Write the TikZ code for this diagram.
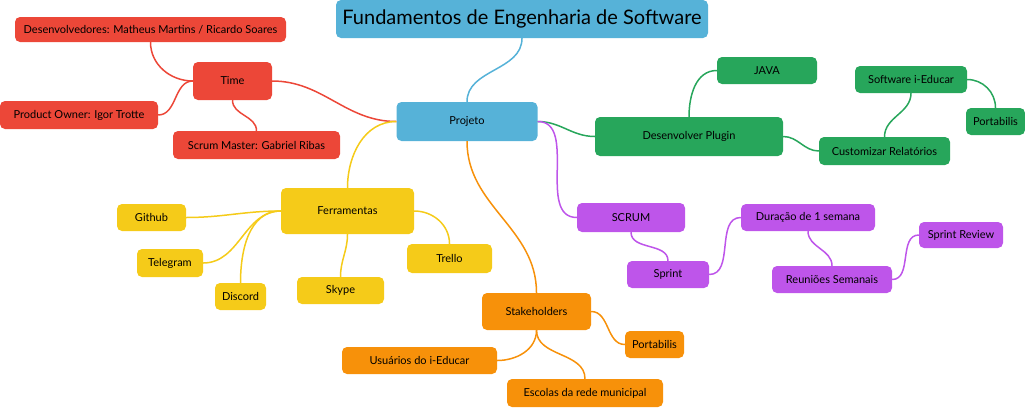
\documentclass[tikz,border=0pt]{standalone}
\usepackage{fontspec}
\setmainfont{Lato}
\usepackage{xcolor}
\usetikzlibrary{positioning}

\definecolor{mapblue}{RGB}{86,178,216}
\definecolor{mapred}{RGB}{236,71,56}
\definecolor{mapgreen}{RGB}{39,166,91}
\definecolor{mapyellow}{RGB}{245,203,25}
\definecolor{mappurple}{RGB}{190,85,234}
\definecolor{maporange}{RGB}{247,145,10}

\tikzset{
    topic/.style={rounded corners=5pt, inner sep=2pt, text=black,
        font=\fontsize{11}{13}\selectfont},
    bluebox/.style={topic, fill=mapblue},
    redbox/.style={topic, fill=mapred},
    greenbox/.style={topic, fill=mapgreen},
    yellowbox/.style={topic, fill=mapyellow},
    purplebox/.style={topic, fill=mappurple},
    orangebox/.style={topic, fill=maporange},
    link/.style={line width=1.5pt},
}

\begin{document}
\begin{tikzpicture}[x=1pt,y=1pt]
    \useasboundingbox (0,0) rectangle (1025,-407);

    % Central topics
    \node[bluebox, minimum width=372pt, minimum height=38pt, inner sep=0pt,
        font=\fontsize{20}{24}\selectfont] (titulo) at (522,-19) {Fundamentos de Engenharia de Software};
    \node[bluebox, minimum width=141pt, minimum height=39pt] (projeto) at (467,-121.5) {Projeto};

    % Time
    \node[redbox, minimum width=79pt, minimum height=38pt] (time) at (232.5,-81) {Time};
    \node[redbox, minimum width=271pt, minimum height=25pt] (devs) at (150.5,-29.5) {Desenvolvedores: Matheus Martins / Ricardo Soares};
    \node[redbox, minimum width=158pt, minimum height=28pt] (po) at (79,-115) {Product Owner: Igor Trotte};
    \node[redbox, minimum width=167pt, minimum height=28pt] (sm) at (256.5,-145) {Scrum Master: Gabriel Ribas};

    % Desenvolver Plugin
    \node[greenbox, minimum width=188pt, minimum height=39pt] (plugin) at (689,-136.5) {Desenvolver Plugin};
    \node[greenbox, minimum width=100pt, minimum height=27pt] (java) at (767,-70.5) {JAVA};
    \node[greenbox, minimum width=131pt, minimum height=28pt] (relat) at (884.5,-151) {Customizar Relatórios};
    \node[greenbox, minimum width=112pt, minimum height=27pt] (ieducar) at (911,-79.5) {Software i-Educar};
    \node[greenbox, minimum width=59pt, minimum height=27pt] (portg) at (995.5,-121.5) {Portabilis};

    % Ferramentas
    \node[yellowbox, minimum width=133pt, minimum height=46pt] (ferr) at (347.5,-211) {Ferramentas};
    \node[yellowbox, minimum width=69pt, minimum height=27pt] (github) at (151.5,-217.5) {Github};
    \node[yellowbox, minimum width=66pt, minimum height=28pt] (telegram) at (170,-263) {Telegram};
    \node[yellowbox, minimum width=51pt, minimum height=27pt] (discord) at (240.5,-296.5) {Discord};
    \node[yellowbox, minimum width=87pt, minimum height=27pt] (skype) at (340.5,-290.5) {Skype};
    \node[yellowbox, minimum width=85pt, minimum height=29pt] (trello) at (449.5,-258.5) {Trello};

    % SCRUM
    \node[purplebox, minimum width=108pt, minimum height=29pt] (scrum) at (631,-217.5) {SCRUM};
    \node[purplebox, minimum width=82pt, minimum height=27pt] (sprint) at (668,-274.5) {Sprint};
    \node[purplebox, minimum width=134pt, minimum height=27pt] (duracao) at (808,-217.5) {Duração de 1 semana};
    \node[purplebox, minimum width=120pt, minimum height=27pt] (reunioes) at (832,-279.5) {Reuniões Semanais};
    \node[purplebox, minimum width=84pt, minimum height=26pt] (review) at (961,-235) {Sprint Review};

    % Stakeholders
    \node[orangebox, minimum width=109pt, minimum height=37pt] (stake) at (536.5,-311.5) {Stakeholders};
    \node[orangebox, minimum width=59pt, minimum height=27pt] (porto) at (654.5,-344.5) {Portabilis};
    \node[orangebox, minimum width=155pt, minimum height=27pt] (usuarios) at (419.5,-360.5) {Usuários do i-Educar};
    \node[orangebox, minimum width=156pt, minimum height=28pt] (escolas) at (585,-393) {Escolas da rede municipal};

    % Links
    \draw[link, mapblue] (titulo.south) to[out=-90,in=90] (projeto.north);

    \draw[link, mapred] (projeto.west) to[out=180,in=0] (time.east);
    \draw[link, mapred] (time.west) to[out=180,in=-90] (devs.south);
    \draw[link, mapred] (time.west) to[out=180,in=0] (po.east);
    \draw[link, mapred] (time.south) to[out=-90,in=90] (sm.north);

    \draw[link, mapgreen] (projeto.east) to[out=0,in=180] (plugin.west);
    \draw[link, mapgreen] (plugin.north) to[out=90,in=180] (java.west);
    \draw[link, mapgreen] (plugin.east) to[out=0,in=180] (relat.west);
    \draw[link, mapgreen] (relat.north) to[out=90,in=-90] (ieducar.south);
    \draw[link, mapgreen] (ieducar.east) to[out=0,in=90] (portg.north);

    \draw[link, mapyellow] (projeto.west) to[out=180,in=90] (ferr.north);
    \foreach \n in {github,telegram} {
        \draw[link, mapyellow] (ferr.west) to[out=180,in=0] (\n.east);
    }
    \draw[link, mapyellow] (ferr.west) to[out=180,in=90] (discord.north);
    \draw[link, mapyellow] (ferr.south) to[out=-90,in=90] (skype.north);
    \draw[link, mapyellow] (ferr.east) to[out=0,in=90] (trello.north);

    \draw[link, mappurple] (projeto.east) to[out=0,in=180] (scrum.west);
    \draw[link, mappurple] (scrum.south) to[out=-90,in=90] (sprint.north);
    \draw[link, mappurple] (sprint.east) to[out=0,in=180] (duracao.west);
    \draw[link, mappurple] (duracao.south) to[out=-90,in=90] (reunioes.north);
    \draw[link, mappurple] (reunioes.east) to[out=0,in=180] (review.west);

    \draw[link, maporange] (projeto.south) to[out=-90,in=90] (stake.north);
    \draw[link, maporange] (stake.east) to[out=0,in=180] (porto.west);
    \draw[link, maporange] (stake.south) to[out=-90,in=0] (usuarios.east);
    \draw[link, maporange] (stake.south) to[out=-90,in=90] (escolas.north);
\end{tikzpicture}
\end{document}
